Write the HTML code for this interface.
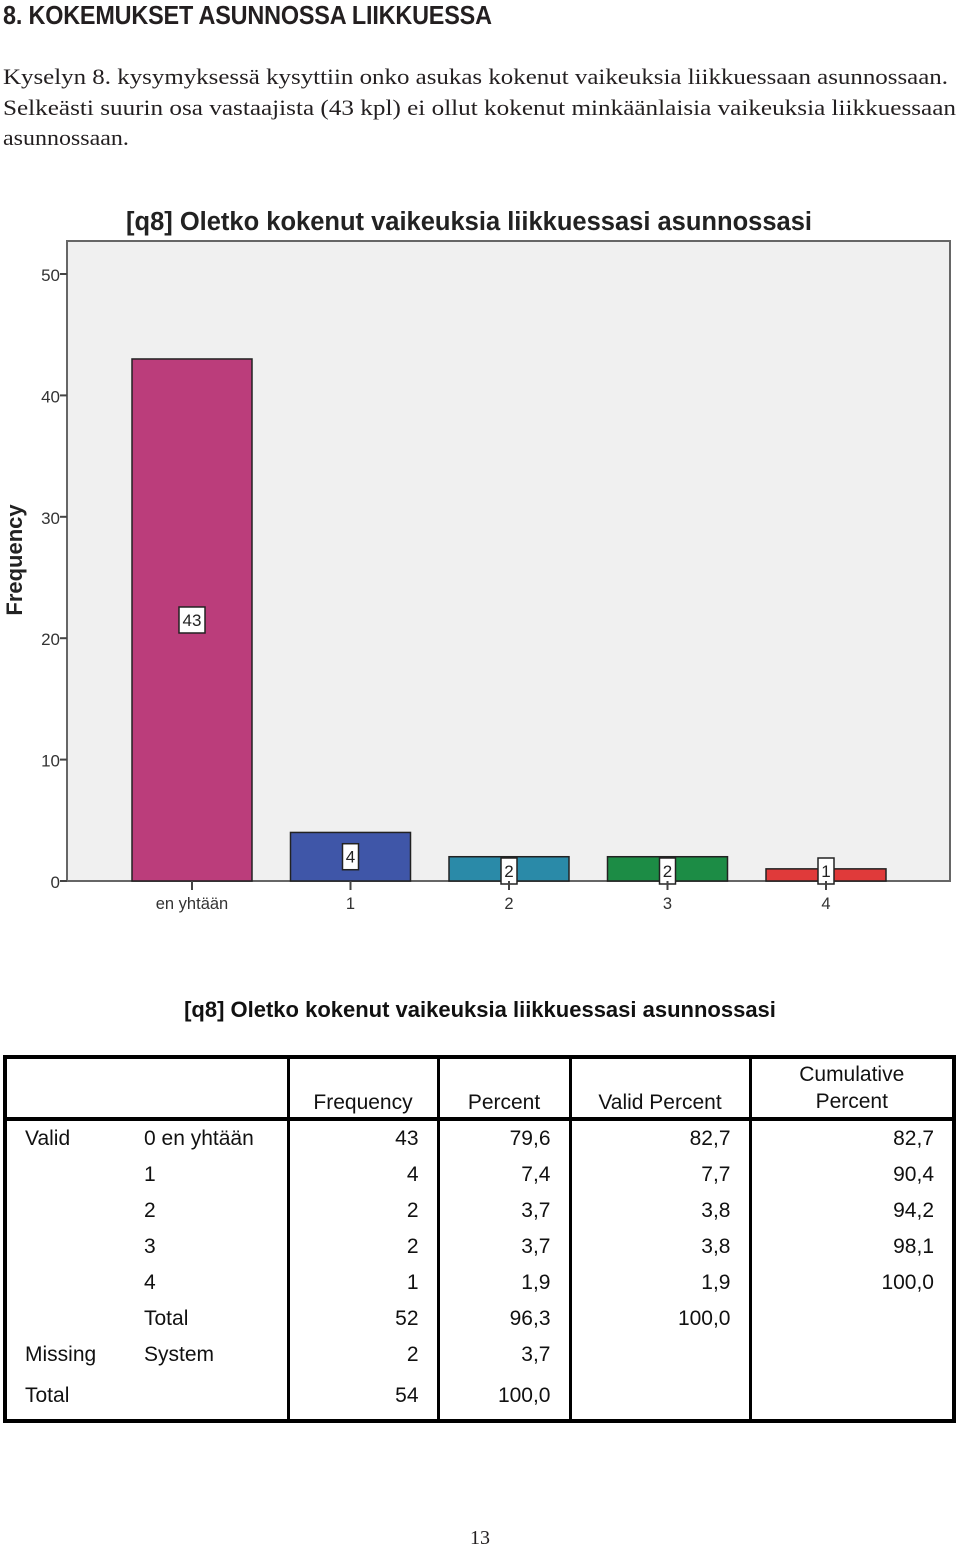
<!DOCTYPE html>
<html><head><meta charset="utf-8"><style>
body{margin:0;width:960px;height:1549px;background:#fff;position:relative;font-family:"Liberation Sans",sans-serif;overflow:hidden}
.abs{position:absolute}
h1{position:absolute;left:3px;top:0;margin:0;font:bold 26px "Liberation Sans Narrow","Liberation Sans",sans-serif;color:#231f20;transform:scaleX(0.9);transform-origin:left;white-space:nowrap;letter-spacing:-0.2px}
.p{position:absolute;left:3px;font:21px "Liberation Serif",serif;color:#231f20;white-space:nowrap;transform-origin:left}
table{position:absolute;left:3px;top:1055px;width:953px;border-collapse:collapse;border:4px solid #000;font-size:21px;color:#111}
td{padding:0 18px;height:36px;vertical-align:middle}
.r{text-align:right}
.vl{border-left:3px solid #000}
</style></head><body>
<h1>8. KOKEMUKSET ASUNNOSSA LIIKKUESSA</h1>
<div class="p" id="p1" style="top:64px">Kyselyn 8. kysymyksessä kysyttiin onko asukas kokenut vaikeuksia liikkuessaan asunnossaan.</div>
<div class="p" id="p2" style="top:95px">Selkeästi suurin osa vastaajista (43 kpl) ei ollut kokenut minkäänlaisia vaikeuksia liikkuessaan</div>
<div class="p" id="p3" style="top:125px">asunnossaan.</div>

<svg class="abs" style="left:0;top:0" width="960" height="940">
<text x="469" y="230" text-anchor="middle" font-size="25.5" font-weight="bold" fill="#222" font-family="Liberation Sans">[q8] Oletko kokenut vaikeuksia liikkuessasi asunnossasi</text>
<rect x="67" y="241" width="883" height="640" fill="#f0f0f0" stroke="#666" stroke-width="2"/>
<text transform="translate(22,560) rotate(-90)" text-anchor="middle" font-size="22" font-weight="bold" fill="#222">Frequency</text>
<g id="yaxis"></g><g id="bars"></g>
</svg>

<div class="abs" style="left:0;width:960px;top:997px;text-align:center;font-size:22px;font-weight:bold;color:#111">[q8] Oletko kokenut vaikeuksia liikkuessasi asunnossasi</div>
<table>
<col style="width:121px"><col style="width:162px"><col style="width:150px"><col style="width:132px"><col style="width:180px"><col>
<tr style="height:62px;border-bottom:4px solid #000"><td></td><td></td><td class="vl" style="text-align:center;vertical-align:bottom;padding-bottom:2px">Frequency</td><td class="vl" style="text-align:center;vertical-align:bottom;padding-bottom:2px">Percent</td><td class="vl" style="text-align:center;vertical-align:bottom;padding-bottom:2px">Valid Percent</td><td class="vl" style="text-align:center;vertical-align:bottom;padding-bottom:2px;line-height:27px">Cumulative<br>Percent</td></tr>
<tr><td>Valid</td><td>0 en yhtään</td><td class="r vl">43</td><td class="r vl">79,6</td><td class="r vl">82,7</td><td class="r vl">82,7</td></tr>
<tr><td></td><td>1</td><td class="r vl">4</td><td class="r vl">7,4</td><td class="r vl">7,7</td><td class="r vl">90,4</td></tr>
<tr><td></td><td>2</td><td class="r vl">2</td><td class="r vl">3,7</td><td class="r vl">3,8</td><td class="r vl">94,2</td></tr>
<tr><td></td><td>3</td><td class="r vl">2</td><td class="r vl">3,7</td><td class="r vl">3,8</td><td class="r vl">98,1</td></tr>
<tr><td></td><td>4</td><td class="r vl">1</td><td class="r vl">1,9</td><td class="r vl">1,9</td><td class="r vl">100,0</td></tr>
<tr><td></td><td>Total</td><td class="r vl">52</td><td class="r vl">96,3</td><td class="r vl">100,0</td><td class="vl"></td></tr>
<tr><td>Missing</td><td>System</td><td class="r vl">2</td><td class="r vl">3,7</td><td class="vl"></td><td class="vl"></td></tr>
<tr style="height:48px"><td>Total</td><td></td><td class="r vl">54</td><td class="r vl">100,0</td><td class="vl"></td><td class="vl"></td></tr>
</table>
<div class="abs" style="left:0;width:960px;top:1527px;text-align:center;font:20px 'Liberation Serif',serif;color:#231f20">13</div>

<script>
const categories=["en yhtään","1","2","3","4"];
const counts=[43,4,2,2,1];
const yTicks=[0,10,20,30,40,50];
const colors=["#bb3d7b","#3f56a8","#2a8aa8","#1c8c45","#e03a3a"];
// fit paragraph lines to reference widths
[["p1",945],["p2",953]].forEach(([id,w])=>{const e=document.getElementById(id);e.style.fontSize="22px";const s=w/e.getBoundingClientRect().width;e.style.transform="scaleX("+s+")";});
(function(){const e=document.getElementById('p3');e.style.fontSize="22px";e.style.transform="scaleX(1.09)";})();
const NS="http://www.w3.org/2000/svg";
const x0=67,x1=950,y0=881,yTop=274;
const yScale=v=>y0-(v/50)*(y0-yTop);
const step=158.5,firstC=192,bw=120;
const xScale=i=>firstC+i*step;
function mk(t,a,p){const e=document.createElementNS(NS,t);for(const k in a)e.setAttribute(k,a[k]);p.appendChild(e);return e;}
const ya=document.getElementById('yaxis'),bg=document.getElementById('bars');
yTicks.forEach(t=>{
 const l=mk('line',{x1:x0-7,x2:x0,y1:yScale(t),y2:yScale(t),stroke:'#444','stroke-width':2},ya);
 
 
 const tx=mk('text',{x:x0-7,y:yScale(t)+7,'text-anchor':'end','font-size':17,fill:'#333'},ya);
 tx.textContent=t;
 
 
});
counts.forEach((v,i)=>{
 const cx=xScale(i),y=yScale(v);
 const r=mk('rect',{x:cx-bw/2,y:y,width:bw,height:y0-y,fill:colors[i],stroke:'#222','stroke-width':1.5},bg);
 
 
 const ly=v>2?(y+y0)/2:y0-10;
 const lb=mk('rect',{x:cx-8,y:ly-13,width:16,height:26,fill:'#fff',stroke:'#222','stroke-width':1.5},bg);
 if(v>=10){lb.setAttribute('x',cx-13);lb.setAttribute('width',26);}
 
 
 const lt=mk('text',{x:cx,y:ly+6,'text-anchor':'middle','font-size':17,fill:'#222'},bg);
 lt.textContent=v;
 
 
 const tk=mk('line',{x1:cx,x2:cx,y1:y0,y2:y0+9,stroke:'#444','stroke-width':2},bg);
 
 
 const ct=mk('text',{x:cx,y:y0+28,'text-anchor':'middle','font-size':16.5,fill:'#333'},bg);
 ct.textContent=categories[i];
 
 
});
</script>
</body></html>
